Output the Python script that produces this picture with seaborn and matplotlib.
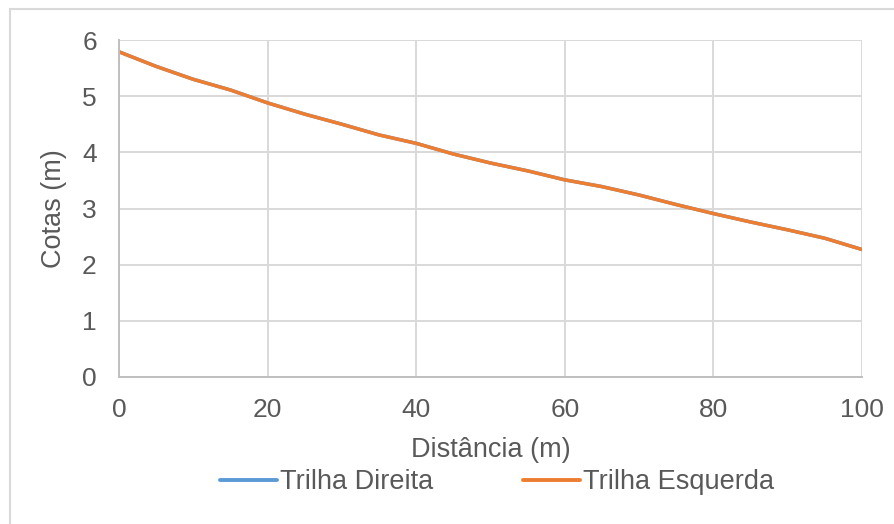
import matplotlib
matplotlib.use("Agg")
import matplotlib.pyplot as plt
from matplotlib.patches import Rectangle
import seaborn as sns
import pandas as pd

# Elevation profile along the two trails (both trails share the same profile)
distancia = [0, 5, 10, 15, 20, 25, 30, 35, 40, 45, 50,
             55, 60, 65, 70, 75, 80, 85, 90, 95, 100]
cota_direita = [5.79, 5.53, 5.30, 5.11, 4.88, 4.68, 4.50, 4.31, 4.16, 3.97, 3.81,
                3.67, 3.51, 3.39, 3.24, 3.07, 2.91, 2.76, 2.62, 2.47, 2.27]
cota_esquerda = [5.79, 5.53, 5.30, 5.11, 4.88, 4.68, 4.50, 4.31, 4.16, 3.97, 3.81,
                 3.67, 3.51, 3.39, 3.24, 3.07, 2.91, 2.76, 2.62, 2.47, 2.27]
series = ["Trilha Direita", "Trilha Esquerda"]
cores = ["#5B9BD5", "#ED7D31"]
yticks = [0, 1, 2, 3, 4, 5, 6]
xticks = [0, 20, 40, 60, 80, 100]

df = pd.concat([
    pd.DataFrame({"Distância": distancia, "Cota": cota_direita, "Trilha": series[0]}),
    pd.DataFrame({"Distância": distancia, "Cota": cota_esquerda, "Trilha": series[1]}),
])

sns.set_theme(style="white")
plt.rcParams["font.family"] = ["Liberation Sans", "DejaVu Sans"]

texto = "#595959"
fs_ticks = 19
fs = 19.5
fig = plt.figure(figsize=(8.95, 5.24), dpi=100)
ax = fig.add_axes([119 / 895, 1 - 377 / 524, (862 - 119) / 895, (377 - 40) / 524])

sns.lineplot(data=df, x="Distância", y="Cota", hue="Trilha", hue_order=series,
             palette=cores, linewidth=2.5, ax=ax, legend=False)

ax.set_xlim(0, 100)
ax.set_ylim(0, 6)
ax.set_xticks(xticks)
ax.set_yticks(yticks)
ax.grid(True, color="#D9D9D9", linewidth=1.4)
ax.set_axisbelow(True)
for lado in ["top", "right"]:
    ax.spines[lado].set_visible(False)
for lado in ["left", "bottom"]:
    ax.spines[lado].set_color("#BFBFBF")
    ax.spines[lado].set_linewidth(1.4)
ax.tick_params(axis="both", length=0, labelsize=fs_ticks, colors=texto)
ax.tick_params(axis="y", pad=16)
ax.tick_params(axis="x", pad=15)
ax.set_xlabel("Distância (m)", fontsize=fs, color=texto, labelpad=11)
ax.set_ylabel("Cotas (m)", fontsize=fs, color=texto, labelpad=11)

linhas = [plt.Line2D([], [], color=c, linewidth=2.8) for c in cores]
fig.legend(linhas, series, loc="center", bbox_to_anchor=(497 / 895, 1 - 482 / 524),
           ncol=2, frameon=False, fontsize=fs, handlelength=2.1, handletextpad=0.12,
           columnspacing=3.3, labelcolor=texto, borderpad=0, borderaxespad=0)

# Chart area border
fig.patches.append(Rectangle((10 / 895, -0.05), 1.0, 1 - 8.5 / 524 + 0.05,
                             transform=fig.transFigure, fill=False,
                             edgecolor="#D9D9D9", linewidth=1.5))

fig.savefig("out.png", dpi=100, facecolor="white")
